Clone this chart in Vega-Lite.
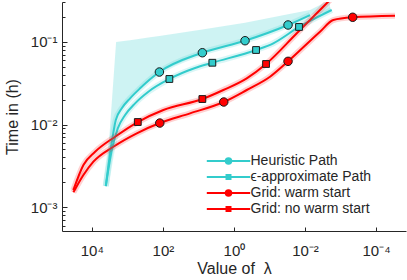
{
  "$schema": "https://vega.github.io/schema/vega-lite/v6.json",
  "width": 344,
  "height": 229,
  "autosize": {"type": "none"},
  "padding": {"left": 62, "top": 2, "right": 1, "bottom": 49},
  "config": {
    "view": {"stroke": null},
    "font": "Liberation Sans",
    "axis": {
      "grid": false,
      "domainColor": "#262626",
      "tickColor": "#262626",
      "labelColor": "#262626",
      "titleColor": "#262626",
      "labelFont": "Liberation Sans",
      "titleFont": "Liberation Sans",
      "labelFontSize": 15,
      "titleFontSize": 16,
      "titleFontWeight": "normal"
    },
    "legend": {
      "labelFont": "Liberation Sans",
      "labelFontSize": 14,
      "labelColor": "#262626",
      "padding": 0,
      "rowPadding": 2
    }
  },
  "datasets": {
    "lines": [
      {"series": "Heuristic Path", "k": 1, "lambda": 4036, "time": 0.001807},
      {"series": "Heuristic Path", "k": 1, "lambda": 2864, "time": 0.0054},
      {"series": "Heuristic Path", "k": 1, "lambda": 2113, "time": 0.01132},
      {"series": "Heuristic Path", "k": 1, "lambda": 1432, "time": 0.0157},
      {"series": "Heuristic Path", "k": 1, "lambda": 837.5, "time": 0.0207},
      {"series": "Heuristic Path", "k": 1, "lambda": 437.5, "time": 0.02735},
      {"series": "Heuristic Path", "k": 1, "lambda": 229.1, "time": 0.03516},
      {"series": "Heuristic Path", "k": 1, "lambda": 125.3, "time": 0.04305},
      {"series": "Heuristic Path", "k": 1, "lambda": 7.745, "time": 0.07362},
      {"series": "Heuristic Path", "k": 1, "lambda": 0.4875, "time": 0.1028},
      {"series": "Heuristic Path", "k": 1, "lambda": 0.03006, "time": 0.1592},
      {"series": "Heuristic Path", "k": 1, "lambda": 0.007228, "time": 0.2099},
      {"series": "ϵ-approximate Path", "k": 2, "lambda": 4036, "time": 0.001807},
      {"series": "ϵ-approximate Path", "k": 2, "lambda": 2735, "time": 0.00492},
      {"series": "ϵ-approximate Path", "k": 2, "lambda": 1858, "time": 0.008995},
      {"series": "ϵ-approximate Path", "k": 2, "lambda": 1156, "time": 0.01303},
      {"series": "ϵ-approximate Path", "k": 2, "lambda": 605.3, "time": 0.01803},
      {"series": "ϵ-approximate Path", "k": 2, "lambda": 255.9, "time": 0.02489},
      {"series": "ϵ-approximate Path", "k": 2, "lambda": 65.62, "time": 0.03548},
      {"series": "ϵ-approximate Path", "k": 2, "lambda": 12.42, "time": 0.0481},
      {"series": "ϵ-approximate Path", "k": 2, "lambda": 4.055, "time": 0.05572},
      {"series": "ϵ-approximate Path", "k": 2, "lambda": 0.2388, "time": 0.07943},
      {"series": "ϵ-approximate Path", "k": 2, "lambda": 0.07798, "time": 0.09572},
      {"series": "ϵ-approximate Path", "k": 2, "lambda": 0.01476, "time": 0.1507},
      {"series": "ϵ-approximate Path", "k": 2, "lambda": 0.001774, "time": 0.2415},
      {"series": "Grid: warm start", "k": 3, "lambda": 32960, "time": 0.001517},
      {"series": "Grid: warm start", "k": 3, "lambda": 17220, "time": 0.002455},
      {"series": "Grid: warm start", "k": 3, "lambda": 9016, "time": 0.003556},
      {"series": "Grid: warm start", "k": 3, "lambda": 2466, "time": 0.005395},
      {"series": "Grid: warm start", "k": 3, "lambda": 542, "time": 0.007834},
      {"series": "Grid: warm start", "k": 3, "lambda": 122.2, "time": 0.01042},
      {"series": "Grid: warm start", "k": 3, "lambda": 17.18, "time": 0.01365},
      {"series": "Grid: warm start", "k": 3, "lambda": 1.936, "time": 0.01871},
      {"series": "Grid: warm start", "k": 3, "lambda": 0.4365, "time": 0.02612},
      {"series": "Grid: warm start", "k": 3, "lambda": 0.09661, "time": 0.03776},
      {"series": "Grid: warm start", "k": 3, "lambda": 0.03006, "time": 0.05794},
      {"series": "Grid: warm start", "k": 3, "lambda": 0.003784, "time": 0.1321},
      {"series": "Grid: warm start", "k": 3, "lambda": 0.0016, "time": 0.1828},
      {"series": "Grid: warm start", "k": 3, "lambda": 0.000455, "time": 0.1973},
      {"series": "Grid: warm start", "k": 3, "lambda": 0.00002938, "time": 0.2061},
      {"series": "Grid: no warm start", "k": 4, "lambda": 32960, "time": 0.001618},
      {"series": "Grid: no warm start", "k": 4, "lambda": 17220, "time": 0.003243},
      {"series": "Grid: no warm start", "k": 4, "lambda": 8072, "time": 0.004688},
      {"series": "Grid: no warm start", "k": 4, "lambda": 2213, "time": 0.007129},
      {"series": "Grid: no warm start", "k": 4, "lambda": 508.2, "time": 0.01072},
      {"series": "Grid: no warm start", "k": 4, "lambda": 96.83, "time": 0.01496},
      {"series": "Grid: no warm start", "k": 4, "lambda": 7.745, "time": 0.02032},
      {"series": "Grid: no warm start", "k": 4, "lambda": 1.986, "time": 0.02612},
      {"series": "Grid: no warm start", "k": 4, "lambda": 0.4365, "time": 0.03614},
      {"series": "Grid: no warm start", "k": 4, "lambda": 0.125, "time": 0.05383},
      {"series": "Grid: no warm start", "k": 4, "lambda": 0.01679, "time": 0.1274},
      {"series": "Grid: no warm start", "k": 4, "lambda": 0.001982, "time": 0.3192}
    ],
    "markers": [
      {"series": "Heuristic Path", "k": 1, "lambda": 125.3, "time": 0.04305},
      {"series": "Heuristic Path", "k": 1, "lambda": 7.745, "time": 0.07362},
      {"series": "Heuristic Path", "k": 1, "lambda": 0.4875, "time": 0.1028},
      {"series": "Heuristic Path", "k": 1, "lambda": 0.03006, "time": 0.1592},
      {"series": "ϵ-approximate Path", "k": 2, "lambda": 65.62, "time": 0.03548},
      {"series": "ϵ-approximate Path", "k": 2, "lambda": 4.055, "time": 0.05572},
      {"series": "ϵ-approximate Path", "k": 2, "lambda": 0.2388, "time": 0.07943},
      {"series": "ϵ-approximate Path", "k": 2, "lambda": 0.01476, "time": 0.1507},
      {"series": "Grid: warm start", "k": 3, "lambda": 122.2, "time": 0.01042},
      {"series": "Grid: warm start", "k": 3, "lambda": 1.936, "time": 0.01871},
      {"series": "Grid: warm start", "k": 3, "lambda": 0.03006, "time": 0.05794},
      {"series": "Grid: warm start", "k": 3, "lambda": 0.000455, "time": 0.1973},
      {"series": "Grid: no warm start", "k": 4, "lambda": 508.2, "time": 0.01072},
      {"series": "Grid: no warm start", "k": 4, "lambda": 7.745, "time": 0.02032},
      {"series": "Grid: no warm start", "k": 4, "lambda": 0.125, "time": 0.05383}
    ],
    "band": [
      {"lambda": 4036, "lo": 0.001807, "hi": 0.001807},
      {"lambda": 2864, "lo": 0.0054, "hi": 0.01419},
      {"lambda": 2070, "lo": 0.01148, "hi": 0.09908},
      {"lambda": 1432, "lo": 0.0157, "hi": 0.1014},
      {"lambda": 837.5, "lo": 0.0207, "hi": 0.1045},
      {"lambda": 437.5, "lo": 0.02735, "hi": 0.1086},
      {"lambda": 229.1, "lo": 0.03516, "hi": 0.113},
      {"lambda": 125.3, "lo": 0.04305, "hi": 0.1172},
      {"lambda": 7.745, "lo": 0.07362, "hi": 0.14},
      {"lambda": 0.4875, "lo": 0.1028, "hi": 0.1694},
      {"lambda": 0.03006, "lo": 0.1592, "hi": 0.2143},
      {"lambda": 0.007228, "lo": 0.2099, "hi": 0.2415},
      {"lambda": 0.001982, "lo": 0.2291, "hi": 0.3192}
    ]
  },
  "encoding": {
    "x": {
      "field": "lambda",
      "type": "quantitative",
      "scale": {"type": "log", "domain": [0.0000144, 69000], "reverse": true, "nice": false},
      "axis": {
        "values": [10000, 100, 1, 0.01, 0.0001],
        "labelExpr": "'10' + replace(replace(replace(replace(replace(replace(toString(round(log(datum.value)/LN10)),'-','⁻'),'0','⁰'),'1','¹'),'2','²'),'3','³'),'4','⁴')",
        "title": "Value of \u00a0λ",
        "tickSize": -4,
        "labelPadding": 16,
        "titlePadding": 2
      }
    }
  },
  "layer": [
    {
      "data": {"name": "band"},
      "mark": {"type": "area", "color": "#33cccc", "opacity": 0.24, "clip": true},
      "encoding": {
        "y": {"field": "lo", "type": "quantitative", "scale": {"type": "log", "domain": [0.000518, 0.3017], "nice": false},
          "axis": {
            "values": [0.0006, 0.0007, 0.0008, 0.0009, 0.001, 0.002, 0.003, 0.004, 0.005, 0.006, 0.007, 0.008, 0.009, 0.01, 0.02, 0.03, 0.04, 0.05, 0.06, 0.07, 0.08, 0.09, 0.1, 0.2, 0.3],
            "labelExpr": "abs(log(datum.value)/LN10 - round(log(datum.value)/LN10)) < 0.001 ? '10' + replace(replace(replace(replace(replace(toString(round(log(datum.value)/LN10)),'-','⁻'),'0','⁰'),'1','¹'),'2','²'),'3','³') : ''",
            "tickSize": {"condition": {"test": "abs(log(datum.value)/LN10 - round(log(datum.value)/LN10)) < 0.001", "value": -5}, "value": -3},
            "labelPadding": 10,
            "labelOverlap": false,
            "title": "Time in (h)",
            "titlePadding": 10
          }
        },
        "y2": {"field": "hi"}
      }
    },
    {
      "data": {"name": "lines"},
      "mark": {"type": "line", "strokeWidth": 2, "interpolate": "monotone", "clip": true},
      "encoding": {
        "y": {"field": "time", "type": "quantitative"},
        "stroke": {
          "field": "series",
          "type": "nominal",
          "sort": {"field": "k", "op": "min"},
          "scale": {"range": ["#33cccc", "#33cccc", "#ff0000", "#ff0000"]},
          "legend": {
            "orient": "none",
            "legendX": 159.5,
            "legendY": 152,
            "title": null,
            "symbolType": "M-5.8,0H5.8",
            "symbolSize": 56,
            "symbolStrokeWidth": 2,
            "symbolOpacity": 1,
            "labelOffset": 15
          }
        }
      }
    },
    {
      "data": {"name": "lines"},
      "mark": {"type": "line", "strokeWidth": 6, "strokeOpacity": 0.18, "interpolate": "monotone", "clip": true},
      "encoding": {
        "y": {"field": "time", "type": "quantitative"},
        "stroke": {
          "field": "series",
          "type": "nominal",
          "sort": {"field": "k", "op": "min"}
        }
      }
    },
    {
      "data": {"name": "markers"},
      "mark": {"type": "point", "filled": true, "size": 72, "stroke": "#1a1a1a", "strokeWidth": 1, "opacity": 1, "clip": true},
      "encoding": {
        "y": {"field": "time", "type": "quantitative"},
        "fill": {
          "field": "series",
          "type": "nominal",
          "sort": {"field": "k", "op": "min"},
          "scale": {"range": ["#33cccc", "#33cccc", "#ff0000", "#ff0000"]},
          "legend": {
            "orient": "none",
            "legendX": 159.5,
            "legendY": 152,
            "title": null,
            "symbolSize": 56,
            "symbolStrokeColor": "#1a1a1a",
            "symbolStrokeWidth": 1,
            "labelExpr": "' '",
            "labelOffset": 15
          }
        },
        "shape": {
          "field": "series",
          "type": "nominal",
          "sort": {"field": "k", "op": "min"},
          "scale": {"range": ["circle", "M-0.8,-0.8H0.8V0.8H-0.8Z", "circle", "M-0.8,-0.8H0.8V0.8H-0.8Z"]},
          "legend": {
            "orient": "none",
            "legendX": 159.5,
            "legendY": 152,
            "title": null,
            "symbolSize": 56,
            "symbolStrokeColor": "#1a1a1a",
            "symbolStrokeWidth": 1,
            "labelExpr": "' '",
            "labelOffset": 15
          }
        }
      }
    }
  ]
}
